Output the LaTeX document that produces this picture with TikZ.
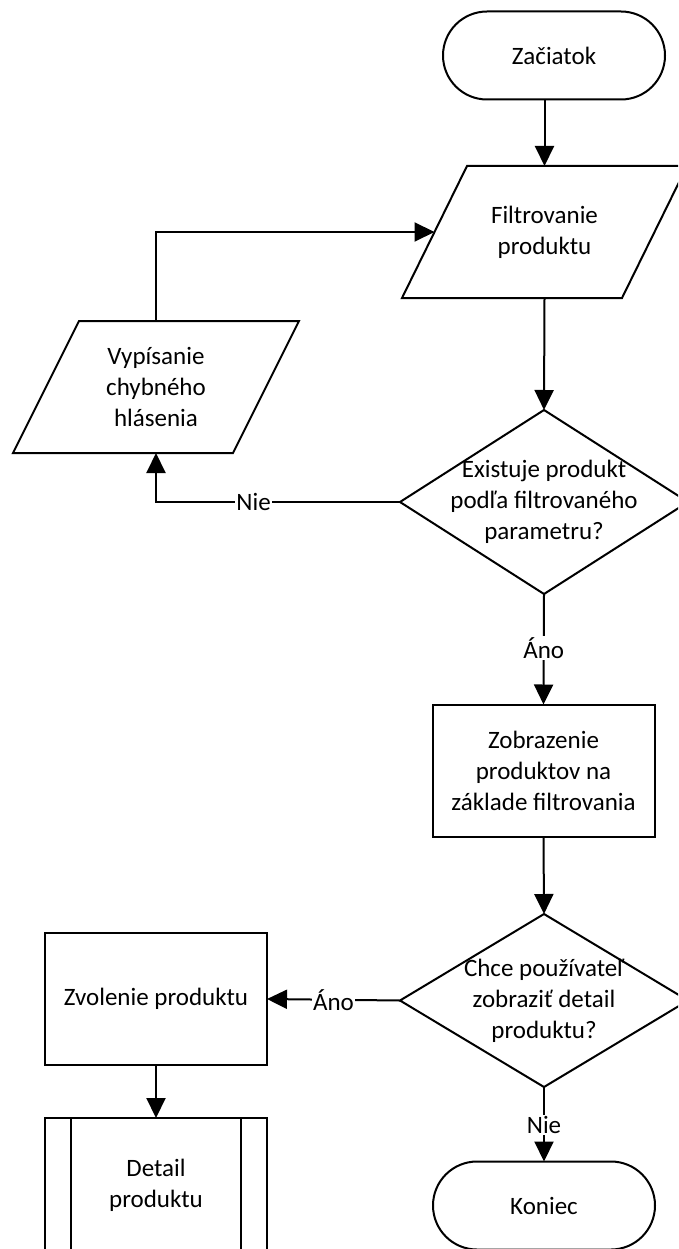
\documentclass[tikz,border=0pt]{standalone}
\usepackage{fontspec}
\setmainfont{Carlito}
\usetikzlibrary{shapes.geometric,arrows.meta}
\newcommand\paraline[2]{\draw[shapeline] ([xshift=#2]#1.north west) -- ([xshift=#2]#1.north east) -- ([xshift=-#2]#1.south east) -- ([xshift=-#2]#1.south west) -- cycle;}
\begin{document}
\begin{tikzpicture}[x=1pt,y=1pt,
  every node/.style={font=\fontsize{25}{31}\selectfont, align=center, inner sep=0pt, outer sep=0pt},
  shapeline/.style={line width=2pt, line join=miter},
  term/.style={draw, shapeline, rectangle, rounded corners=44pt, minimum width=222pt, minimum height=88pt},
  proc/.style={draw, shapeline, rectangle, minimum width=222pt, minimum height=132pt},
  para/.style={rectangle, minimum width=220pt, minimum height=132pt},
  dia/.style={draw, shapeline, diamond, minimum width=288pt, minimum height=#1},
  conn/.style={line width=2pt, -{Triangle[length=20pt,width=19pt]}},
  lbl/.style={fill=white, inner sep=1.5pt}
]
\useasboundingbox (0,0) rectangle (678,-1249);
\clip (0,0) rectangle (678,-1249);

% shapes
\node[term] (z) at (554,-55.5) {Začiatok};
\node[para] (f) at (544.5,-232) {Filtrovanie\\produktu};
\paraline{f}{32.5pt}
\node[para] (v) at (156,-387) {Vypísanie\\chybného\\hlásenia};
\paraline{v}{33pt}
\node[dia=184pt] (d1) at (544,-502) {};
\node (d1t) at (d1) {Existuje produkt\\podľa filtrovaného\\parametru?};
\node[proc] (r1) at (543.5,-770.5) {Zobrazenie\\produktov na\\základe filtrovania};
\node[dia=173pt] (d2) at (544,-1000.5) {};
\node (d2t) at (d2) {Chce používateľ\\zobraziť detail\\produktu?};
\node[proc] (zv) at (156,-999) {Zvolenie produktu};
\node[proc, minimum height=134pt] (dp) at (156,-1185) {Detail\\produktu};
\draw[shapeline] ([xshift=26pt]dp.north west) -- ([xshift=26pt]dp.south west);
\draw[shapeline] ([xshift=-26pt]dp.north east) -- ([xshift=-26pt]dp.south east);
\node[term] (k) at (544,-1205.5) {Koniec};

% connectors
\draw[conn] (z.south -| f.north) -- (f.north);
\draw[conn] (f.south) -- (d1.north);
\draw[conn] (v.north) -- (v.north |- f.west) -- (f.west);
\draw[conn] (d1.west) -- node[lbl, pos=0.6] (l1) {Nie} (v.south |- d1.west) -- (v.south);
\draw[conn] (d1.south) -- node[lbl, pos=0.49] (l2) {Áno} (r1.north);
\draw[conn] (r1.south) -- (d2.north);
\draw[conn] (d2.west) -- node[lbl, pos=0.5] (l3) {Áno} (zv.east);
\draw[conn] (d2.south) -- node[lbl, pos=0.51] (l4) {Nie} (k.north);
\draw[conn] (zv.south) -- (dp.north);
\end{tikzpicture}
\end{document}
